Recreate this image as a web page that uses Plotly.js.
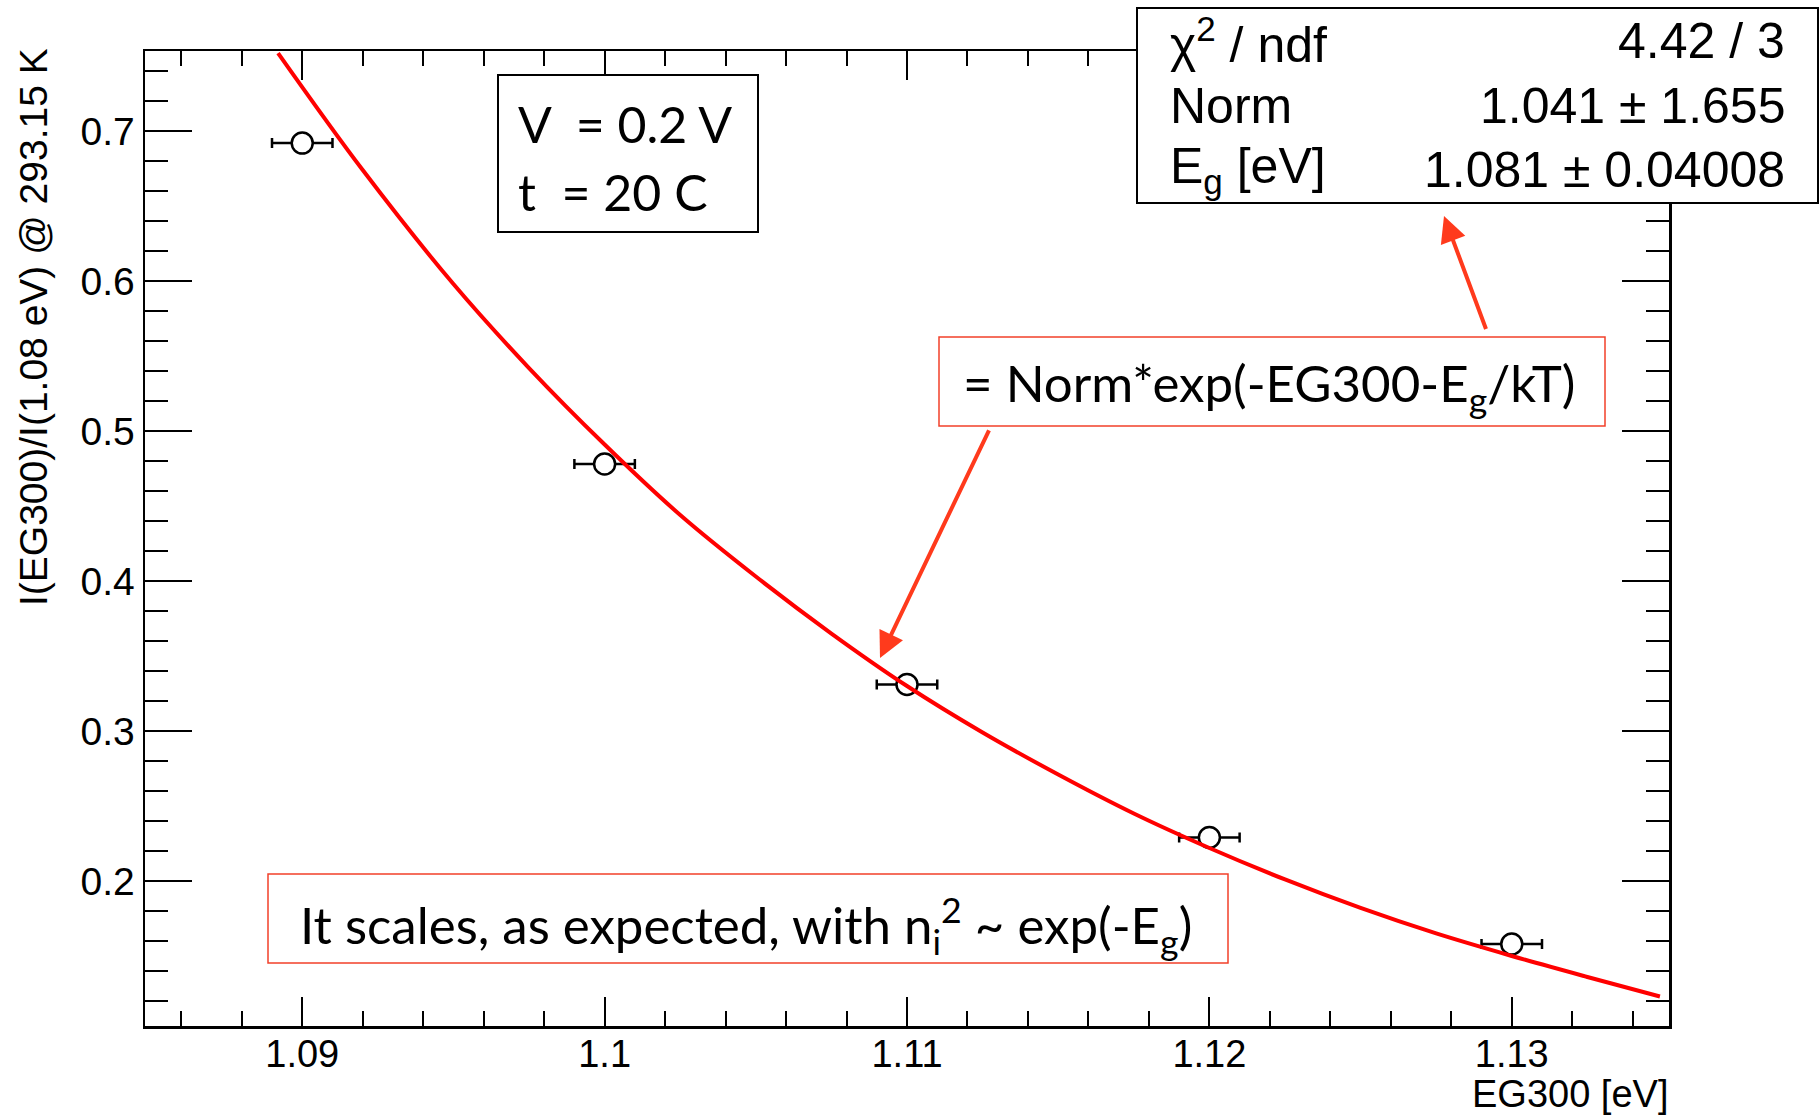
<!DOCTYPE html>
<html>
<head>
<meta charset="utf-8">
<script src="https://cdn.plot.ly/plotly-3.0.1.min.js"></script>
<style>html,body{margin:0;padding:0;background:#fff;}#chart{width:1820px;height:1116px;}</style>
</head>
<body>
<div id="chart"></div>
<script>
// Measured points
const eg300 = [1.09, 1.10, 1.11, 1.12, 1.13];
const ratio = [0.692, 0.478, 0.331, 0.229, 0.158];
const eg300Err = [0.001, 0.001, 0.001, 0.001, 0.001];

// Fit curve
const fitX = [1.0892, 1.092, 1.095, 1.0975, 1.100, 1.1025, 1.105, 1.1075, 1.110, 1.1125, 1.115, 1.1175, 1.120, 1.1225, 1.125, 1.1275, 1.130, 1.1325, 1.1349];
const fitY = [0.752, 0.674, 0.598, 0.542, 0.491, 0.444, 0.403, 0.365, 0.330, 0.299, 0.271, 0.245, 0.222, 0.201, 0.182, 0.165, 0.150, 0.136, 0.123];

// Texts
const statNames = ['χ<sup>2</sup> / ndf', 'Norm', 'E<sub>g</sub> [eV]'];
const statValues = ['4.42 / 3', '1.041 ± 1.655', '1.081 ± 0.04008'];
const condLines = ['V  = 0.2 V', 't  = 20 C'];
const fitLabel = '= Norm*exp(-EG300-E<sub>g</sub>/kT)';
const noteLabel = 'It scales, as expected, with n<sub>i</sub><sup>2</sup> ~ exp(-E<sub>g</sub>)';
const xTitle = 'EG300 [eV]';
const yTitle = 'I(EG300)/I(1.08 eV) @ 293.15 K';

// pixel -> paper helpers (plot area: l=145, r=1669, t=51, b=1026)
const L = 145, R = 1669, T = 51, B = 1026;
const px = v => (v - L) / (R - L);
const py = v => 1 - (v - T) / (B - T);

const helv = 'Liberation Sans, Arial, Helvetica, sans-serif';
const cal = 'Lato, Carlito, Calibri, sans-serif';
const arrowRed = '#ff3a1c';
const boxRed = '#f2402a';

const traces = [
  {
    x: eg300, y: ratio, type: 'scatter', mode: 'markers',
    marker: {symbol: 'circle', size: 21, color: '#ffffff', line: {color: '#000000', width: 2.5}},
    error_x: {type: 'data', array: eg300Err, visible: true, color: '#000000', thickness: 2.5, width: 5},
    showlegend: false, hoverinfo: 'skip', cliponaxis: false
  },
  {
    x: fitX, y: fitY, type: 'scatter', mode: 'lines',
    line: {color: '#ff0000', width: 4, shape: 'spline'},
    showlegend: false, hoverinfo: 'skip'
  }
];

const axisCommon = {
  showgrid: false, zeroline: false, showline: true, mirror: 'ticks',
  linecolor: '#000000', linewidth: 2.5, ticks: 'inside', tickcolor: '#000000',
  tickwidth: 2, tickfont: {family: helv, size: 39, color: '#000000'}
};

const layout = {
  width: 1820, height: 1116,
  margin: {l: L, r: 1820 - R, t: T, b: 1116 - B},
  paper_bgcolor: '#ffffff', plot_bgcolor: '#ffffff',
  xaxis: Object.assign({}, axisCommon, {
    range: [1.0848, 1.1352], tickvals: [1.09, 1.10, 1.11, 1.12, 1.13],
    ticktext: ['1.09', '1.1', '1.11', '1.12', '1.13'], ticklen: 29,
    tickfont: {family: helv, size: 38, color: '#000000'}, ticklabelstandoff: -7,
    minor: {dtick: 0.002, tick0: 1.08, ticks: 'inside', ticklen: 15, tickcolor: '#000000', tickwidth: 2}
  }),
  yaxis: Object.assign({}, axisCommon, {
    range: [0.1033, 0.7534], tickvals: [0.2, 0.3, 0.4, 0.5, 0.6, 0.7],
    ticktext: ['0.2', '0.3', '0.4', '0.5', '0.6', '0.7'], ticklen: 47,
    minor: {dtick: 0.02, tick0: 0.1, ticks: 'inside', ticklen: 23, tickcolor: '#000000', tickwidth: 2}
  }),
  shapes: [
    // stats box
    {type: 'rect', xref: 'paper', yref: 'paper', x0: px(1137), x1: px(1818), y0: py(203), y1: py(8),
     fillcolor: '#ffffff', line: {color: '#000000', width: 2}, layer: 'above'},
    // condition box
    {type: 'rect', xref: 'paper', yref: 'paper', x0: px(498), x1: px(758), y0: py(232), y1: py(75),
     fillcolor: '#ffffff', line: {color: '#000000', width: 2}, layer: 'above'},
    // fit formula box
    {type: 'rect', xref: 'paper', yref: 'paper', x0: px(939), x1: px(1605), y0: py(426), y1: py(337),
     fillcolor: '#ffffff', line: {color: boxRed, width: 1.5}, layer: 'above'},
    // note box
    {type: 'rect', xref: 'paper', yref: 'paper', x0: px(268), x1: px(1228), y0: py(963), y1: py(874),
     fillcolor: '#ffffff', line: {color: boxRed, width: 1.5}, layer: 'above'}
  ],
  annotations: []
};

const A = layout.annotations;
// stats box content
const rowsY = [41, 106, 170];
statNames.forEach((t, i) => A.push({xref: 'paper', yref: 'paper', x: px(1168), y: py(rowsY[i]), xanchor: 'left', yanchor: 'middle',
  text: t, showarrow: false, font: {family: helv, size: 50, color: '#000000'}}));
statValues.forEach((t, i) => A.push({xref: 'paper', yref: 'paper', x: px(1787), y: py(rowsY[i]), xanchor: 'right', yanchor: 'middle',
  text: t, showarrow: false, font: {family: helv, size: 50, color: '#000000'}}));
// condition box content
const condY = [124, 192];
condLines.forEach((t, i) => A.push({xref: 'paper', yref: 'paper', x: px(516), y: py(condY[i]), xanchor: 'left', yanchor: 'middle',
  text: t, showarrow: false, font: {family: cal, size: 50, color: '#000000'}}));
// red boxes content
A.push({xref: 'paper', yref: 'paper', x: px(1269), y: py(386), xanchor: 'center', yanchor: 'middle',
  text: fitLabel, showarrow: false, font: {family: cal, size: 51, color: '#000000'}});
A.push({xref: 'paper', yref: 'paper', x: px(746), y: py(925), xanchor: 'center', yanchor: 'middle',
  text: noteLabel, showarrow: false, font: {family: cal, size: 51, color: '#000000'}});
// arrows
A.push({xref: 'paper', yref: 'paper', x: px(880), y: py(658), ax: 112, ay: -234, text: ' ', showarrow: true,
  arrowhead: 2, arrowsize: 1.3, arrowwidth: 4, arrowcolor: arrowRed});
A.push({xref: 'paper', yref: 'paper', x: px(1444), y: py(216), ax: 45, ay: 121, text: ' ', showarrow: true,
  arrowhead: 2, arrowsize: 1.3, arrowwidth: 4, arrowcolor: arrowRed});
// axis titles (ROOT style, at the end of the axes)
A.push({xref: 'paper', yref: 'paper', x: px(1670), y: py(1117), xanchor: 'right', yanchor: 'bottom',
  text: xTitle, showarrow: false, font: {family: helv, size: 38, color: '#000000'}});
A.push({xref: 'paper', yref: 'paper', x: px(33), y: py(46), xanchor: 'center', yanchor: 'top', textangle: -90,
  text: yTitle, showarrow: false, font: {family: helv, size: 39, color: '#000000'}});

Plotly.newPlot('chart', traces, layout, {staticPlot: true, displayModeBar: false});
</script>
</body>
</html>
